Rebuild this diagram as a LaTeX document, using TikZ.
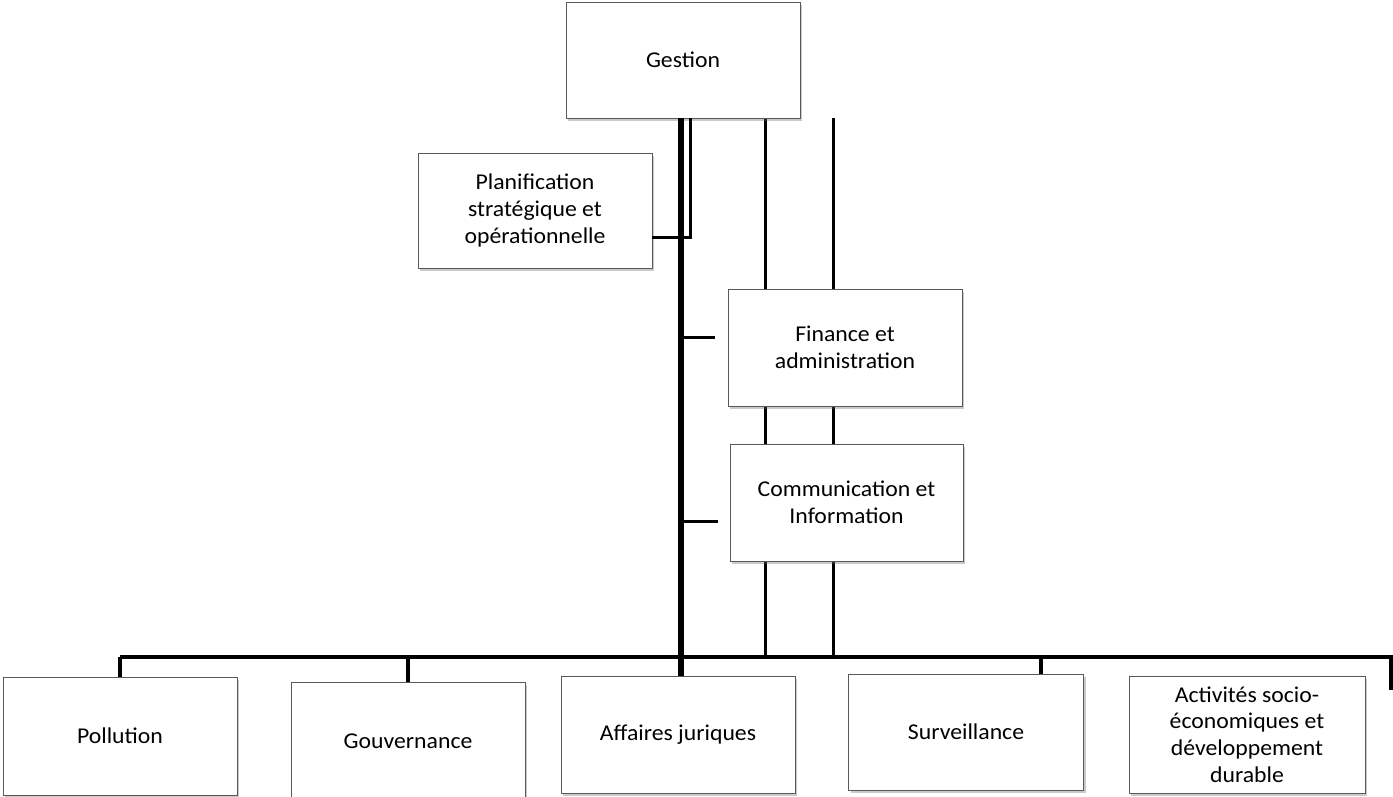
\documentclass[tikz,border=0pt]{standalone}
\usepackage{fontspec}
\setmainfont{Carlito}[FakeStretch=1.05]
\usetikzlibrary{shadows}
\tikzset{
  box/.style={draw=black!65, line width=0.8pt, fill=white, align=center,
    minimum width=234pt, minimum height=116pt, inner sep=2pt,
    font=\fontsize{22.6}{26.8}\selectfont,
    drop shadow={shadow xshift=2pt, shadow yshift=-2.5pt, opacity=0.35, fill=black!60}},
  mainline/.style={line width=5.5pt},
  thinline/.style={line width=3pt},
  busline/.style={line width=4pt},
}
\begin{document}
\begin{tikzpicture}[x=1pt,y=-1pt]
\useasboundingbox (0,0) rectangle (1393,796);
% named points
\coordinate (gA) at (681,118);
\coordinate (gB) at (690,118);
\coordinate (gC) at (690,237);
\coordinate (lA) at (765,118);
\coordinate (lB) at (833,118);
\coordinate (lAb) at (765,657);
\coordinate (lBb) at (833,657);
\coordinate (mBus) at (681,657);
\coordinate (t1a) at (681,337);
\coordinate (t1b) at (715,337);
\coordinate (t2a) at (681,521);
\coordinate (t2b) at (718,521);
\coordinate (bL) at (120,657);
\coordinate (bR) at (1391,657);
\coordinate (bRe) at (1391,690);
\coordinate (bG) at (408,657);
\coordinate (bS) at (1041,657);
% lines behind boxes
\draw[thinline] (lA) -- (lAb);
\draw[thinline] (lB) -- (lBb);
\draw[busline] (bL) -- (bR) -- (bRe);
% nodes
\node[box] (gestion) at (683,60) {Gestion};
\node[box, minimum height=115pt] (plan) at (535,210.5) {Planification\\strat\'egique et\\op\'erationnelle};
\node[box, minimum height=117pt] (fin) at (845,347.5) {Finance et\\administration};
\node[box, minimum width=233pt, minimum height=117pt] (comm) at (846.5,502.5) {Communication et\\Information};
\node[box, minimum height=118pt] (poll) at (120,736) {Pollution};
\node[box, minimum height=118pt] (gouv) at (408,741) {Gouvernance};
\node[box, minimum height=117pt] (aff) at (678,734.5) {Affaires juriques};
\node[box, minimum width=235pt, minimum height=116pt] (surv) at (966,732) {Surveillance};
\node[box, minimum width=236pt, minimum height=117pt] (act) at (1247,734.5) {Activit\'es socio-\\\'economiques et\\d\'eveloppement\\durable};
% connectors
\draw[thinline] (gB) -- (gC) -- (plan.east |- gC);
\draw[mainline] (gA) -- (mBus) -- (aff.north -| mBus);
\draw[thinline] (t1a) -- (t1b);
\draw[thinline] (t2a) -- (t2b);
\draw[busline] (bL) -- (poll.north);
\draw[busline] (bG) -- (gouv.north);
\draw[busline] (bS) -- (bS |- surv.north);
\end{tikzpicture}
\end{document}
